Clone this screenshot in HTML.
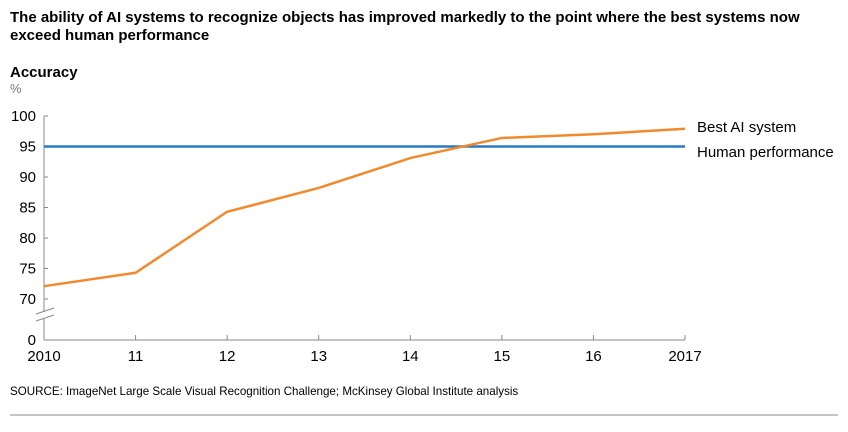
<!DOCTYPE html>
<html><head><meta charset="utf-8"><style>
body{margin:0;background:#fff;font-family:"Liberation Sans",Arial,sans-serif;}
svg text{font-family:"Liberation Sans",Arial,sans-serif;}
</style></head><body>
<svg width="848" height="427">
<text x="10" y="22" font-size="15" font-weight="bold" fill="#000">The ability of AI systems to recognize objects has improved markedly to the point where the best systems now</text>
<text x="10" y="40" font-size="15" font-weight="bold" fill="#000">exceed human performance</text>
<text x="10" y="77" font-size="15" font-weight="bold" fill="#000">Accuracy</text>
<text x="10" y="93" font-size="13" fill="#777">%</text>
<g id="axes"></g>
<g id="series"></g>
<text x="697" y="132" font-size="15" fill="#000">Best AI system</text>
<text x="697" y="157" font-size="15" fill="#000">Human performance</text>
<text x="10" y="395" font-size="11.6" fill="#000">SOURCE:  ImageNet Large Scale Visual Recognition Challenge; McKinsey Global Institute analysis</text>
<line x1="10" y1="415" x2="838" y2="415" stroke="#888" stroke-width="1"/>
</svg>
<script>
const years = ["2010","11","12","13","14","15","16","2017"];
const bestAI = [72.1, 74.3, 84.3, 88.2, 93.1, 96.4, 97.0, 97.9];
const human = [95, 95, 95, 95, 95, 95, 95, 95];
const yTicks = [100, 95, 90, 85, 80, 75, 70];
const NS="http://www.w3.org/2000/svg";
const X0=44, X1=685;
function xs(i){return X0+(X1-X0)*i/(years.length-1);}
function ys(v){return v<=0?340:299-(v-70)*6.1;}
function mk(tag,attrs,parent){const e=document.createElementNS(NS,tag);for(const k in attrs)e.setAttribute(k,attrs[k]);parent.appendChild(e);return e;}
const ax=document.getElementById('axes');
let l=mk('line',{x1:X0,y1:ys(100),x2:X0,y2:312,stroke:'#888','stroke-width':1},ax);


l=mk('line',{x1:X0,y1:319,x2:X0,y2:340,stroke:'#888','stroke-width':1},ax);


l=mk('path',{d:'M36,314 L54,308 M36,321 L54,315',stroke:'#888','stroke-width':1,fill:'none'},ax);


l=mk('line',{x1:X0,y1:340,x2:X1,y2:340,stroke:'#888','stroke-width':1},ax);


yTicks.concat([0]).forEach(v=>{
  const y=ys(v);
  const t=mk('line',{x1:X0,y1:y,x2:X0+4,y2:y,stroke:'#888'},ax);
  
  
  const tx=mk('text',{x:36,y:y+5,'font-size':15,'text-anchor':'end',fill:'#000'},ax);
  tx.textContent=v;
  
  
});
years.forEach((yr,i)=>{
  const x=xs(i);
  const t=mk('line',{x1:x,y1:335,x2:x,y2:340,stroke:'#888'},ax);
  
  
  const tx=mk('text',{x:x,y:361,'font-size':15,'text-anchor':'middle',fill:'#000'},ax);
  tx.textContent=yr;
  
  
});
const se=document.getElementById('series');
let p=mk('polyline',{points:human.map((v,i)=>xs(i)+','+ys(v)).join(' '),fill:'none',stroke:'#2a7ac0','stroke-width':2.5},se);


p=mk('polyline',{points:bestAI.map((v,i)=>xs(i)+','+ys(v)).join(' '),fill:'none',stroke:'#f08a2c','stroke-width':2.5},se);


</script>
</body></html>
